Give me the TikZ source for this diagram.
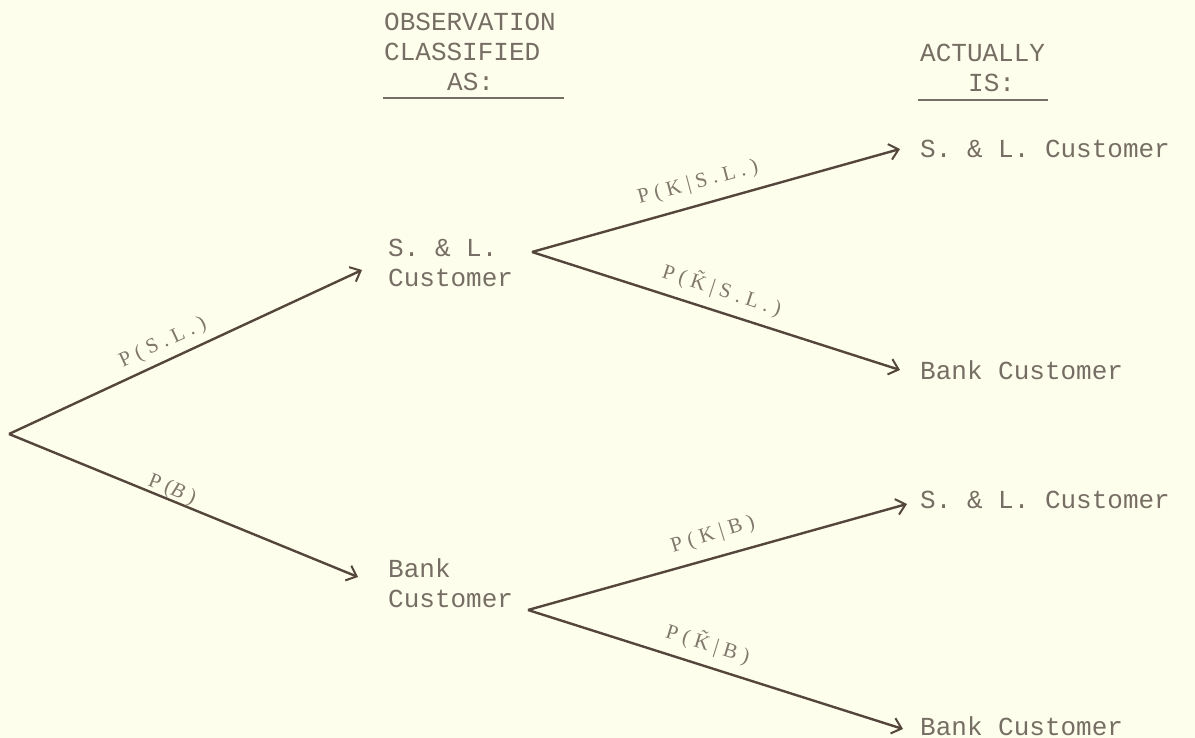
\documentclass[tikz,border=0pt]{standalone}
\usepackage{fontspec}
\setmonofont{Liberation Mono}
\newfontfamily\lblfont[LetterSpace=26]{Liberation Serif}
\usetikzlibrary{arrows.meta}
\definecolor{paper}{RGB}{254,254,236}
\definecolor{ink}{RGB}{84,70,60}
\definecolor{typ}{RGB}{118,110,100}
\definecolor{lbl}{RGB}{128,119,109}
\begin{document}
\begin{tikzpicture}[x=1pt,y=-1pt,
  tw/.style={font=\ttfamily\fontsize{26}{30}\selectfont, text=typ, inner sep=0pt, align=left},
  lab/.style={font=\lblfont\fontsize{21}{24}\selectfont, text=lbl, inner sep=0pt},
  br/.style={draw=ink, line width=2.4pt, -{Straight Barb[length=9pt,width=16pt,line width=2pt]}}]
\fill[paper] (0,0) rectangle (1195,738);
\useasboundingbox (0,0) rectangle (1195,738);
% headers
\node[tw, anchor=west] (h1) at (384,22) {OBSERVATION};
\node[tw, anchor=west] (h2) at (384,52) {CLASSIFIED};
\node[tw, anchor=west] (h3) at (447,82) {AS:};
\draw[typ, line width=1.2pt] (383,98) -- (564,98);
\node[tw, anchor=west] (h4) at (920,53) {ACTUALLY};
\node[tw, anchor=west] (h5) at (968,83) {IS:};
\draw[typ, line width=1.2pt] (918,100) -- (1048,100);
% nodes
\coordinate (root) at (9,434);
\node[tw, anchor=west] (sl) at (388,263) {S. \& L.\\Customer};
\node[tw, anchor=west] (bk) at (388,583) {Bank\\Customer};
\node[tw, anchor=west] (r1) at (920,149) {S. \& L. Customer};
\node[tw, anchor=west] (r2) at (920,370) {Bank Customer};
\node[tw, anchor=west] (r3) at (920,500) {S. \& L. Customer};
\node[tw, anchor=west] (r4) at (920,726) {Bank Customer};
\coordinate (slo) at (532,252);
\coordinate (bko) at (528,610);
% branches
\draw[br] (root) -- ([xshift=-26pt,yshift=-7pt]sl.west);
\draw[br] (root) -- ([xshift=-30pt,yshift=6pt]bk.west);
\draw[br] (slo) -- ([xshift=-20pt,yshift=0pt]r1.west);
\draw[br] (slo) -- ([xshift=-20pt,yshift=0pt]r2.west);
\draw[br] (bko) -- ([xshift=-13pt,yshift=-4pt]r3.west);
\draw[br] (bko) -- ([xshift=-17pt,yshift=-3pt]r4.west);
% labels
\node[lab, rotate=25] (l1) at (163,343) {P(S.L.)};
\node[lab, rotate=-22] (l2) at (172,490) {P(\textit{B})};
\node[lab, rotate=15] (l3) at (698,183) {P(K|S.L.)};
\node[lab, rotate=-18] (l4) at (722,290) {P(\~{K}|S.L.)};
\node[lab, rotate=17] (l5) at (713,535) {P(K|B)};
\node[lab, rotate=-17] (l6) at (708,644) {P(\~{K}|B)};
\end{tikzpicture}
\end{document}
